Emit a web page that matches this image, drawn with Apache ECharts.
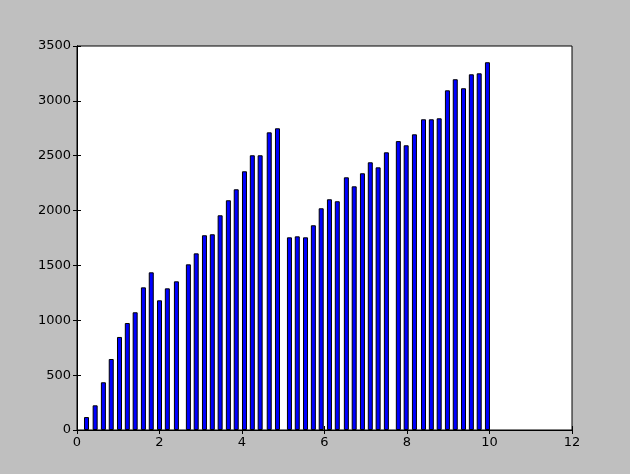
<!DOCTYPE html>
<html>
<head>
<meta charset="utf-8">
<script src="https://cdn.jsdelivr.net/npm/echarts@6/dist/echarts.min.js"></script>
<style>
  html, body { margin: 0; padding: 0; background: #bfbfbf; }
  #main { width: 630px; height: 474px; }
</style>
</head>
<body>
<div id="main"></div>
<script>
// bar positions (x) and heights
var positions = [
  0.23, 0.44, 0.64, 0.83, 1.03, 1.22, 1.41, 1.61, 1.80, 2.00, 2.19, 2.41,
  2.70, 2.89, 3.09, 3.28, 3.47, 3.67, 3.86, 4.06, 4.25, 4.44, 4.66, 4.86,
  5.15, 5.34, 5.54, 5.73, 5.92, 6.12, 6.31, 6.53, 6.72, 6.92, 7.11, 7.30, 7.50,
  7.79, 7.98, 8.18, 8.40, 8.59, 8.78, 8.98, 9.17, 9.37, 9.56, 9.75, 9.95
]
var heights = [
  118, 225, 435, 647, 848, 975, 1073, 1300, 1437, 1182, 1291, 1355,
  1510, 1610, 1775, 1784, 1957, 2094, 2194, 2358, 2504, 2504, 2713, 2750,
  1756, 1765, 1756, 1866, 2021, 2103, 2085, 2303, 2221, 2340, 2440, 2394, 2531,
  2633, 2595, 2695, 2832, 2832, 2841, 3096, 3197, 3115, 3242, 3251, 3352
]
var xTicks = [0, 2, 4, 6, 8, 10, 12]
var yTicks = [0, 500, 1000, 1500, 2000, 2500, 3000, 3500]

var myChart = echarts.init(document.getElementById('main'))

var tickStyle = { show: true, inside: true, length: 4, lineStyle: { color: '#000' } }
var lineStyle = { show: true, lineStyle: { color: '#000', width: 1 } }
var labelFont = {
  color: '#000',
  fontFamily: 'DejaVu Sans',
  fontSize: 13,
  formatter: function (v) { return String(v) }
}

var barData = positions.map(function (x, i) { return [x, heights[i]] })

var option = {
  backgroundColor: '#bfbfbf',
  animation: false,
  grid: {
    left: 77,
    right: 58,
    top: 46,
    bottom: 44,
    show: true,
    backgroundColor: '#fff',
    borderColor: '#000',
    borderWidth: 1
  },
  xAxis: [
    {
      type: 'value',
      min: xTicks[0],
      max: xTicks[xTicks.length - 1],
      interval: 2,
      axisLine: lineStyle,
      axisTick: tickStyle,
      splitLine: { show: false },
      axisLabel: Object.assign({ margin: 6 }, labelFont)
    },
    {
      type: 'value',
      position: 'top',
      min: xTicks[0],
      max: xTicks[xTicks.length - 1],
      interval: 2,
      axisLine: lineStyle,
      axisTick: tickStyle,
      splitLine: { show: false },
      axisLabel: { show: false }
    }
  ],
  yAxis: [
    {
      type: 'value',
      min: yTicks[0],
      max: yTicks[yTicks.length - 1],
      interval: 500,
      axisLine: lineStyle,
      axisTick: tickStyle,
      splitLine: { show: false },
      axisLabel: Object.assign({ margin: 6 }, labelFont)
    },
    {
      type: 'value',
      position: 'right',
      min: yTicks[0],
      max: yTicks[yTicks.length - 1],
      interval: 500,
      axisLine: lineStyle,
      axisTick: tickStyle,
      splitLine: { show: false },
      axisLabel: { show: false }
    }
  ],
  series: [
    {
      type: 'bar',
      data: barData,
      barWidth: 5,
      itemStyle: {
        color: '#0000ff',
        borderColor: '#000',
        borderWidth: 1
      }
    }
  ]
}

option && myChart.setOption(option)
</script>
</body>
</html>
